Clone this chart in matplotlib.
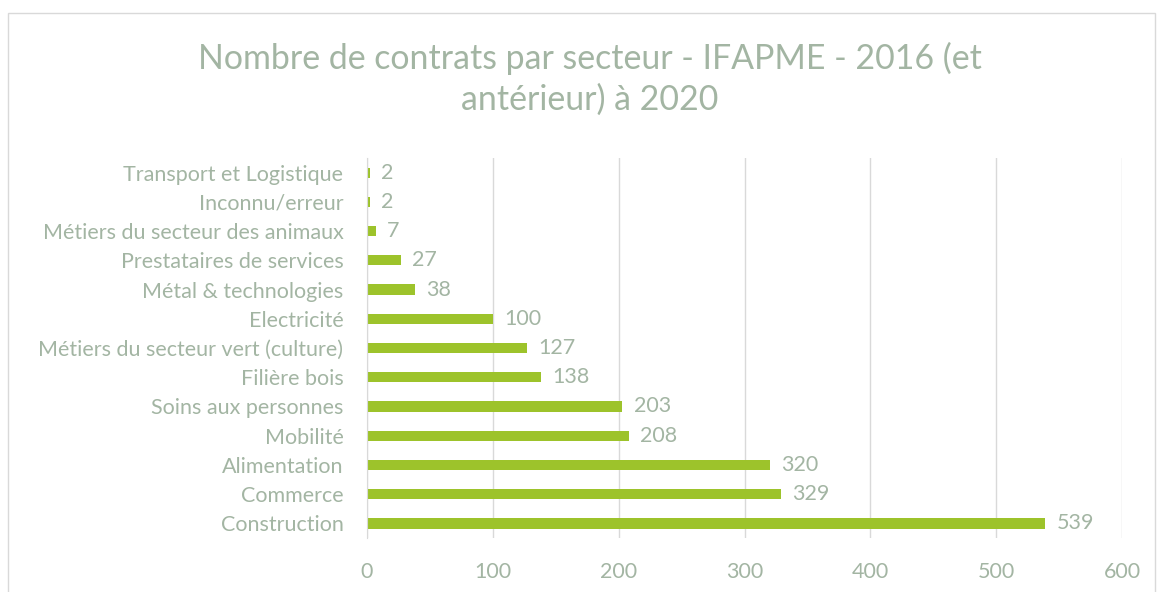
import matplotlib.pyplot as plt
from matplotlib.patches import Rectangle

plt.rcParams['font.family'] = ['Lato', 'DejaVu Sans']

secteurs = ['Construction', 'Commerce', 'Alimentation', 'Mobilité',
            'Soins aux personnes', 'Filière bois',
            'Métiers du secteur vert (culture)', 'Electricité',
            'Métal & technologies', 'Prestataires de services',
            'Métiers du secteur des animaux', 'Inconnu/erreur',
            'Transport et Logistique']
contrats = [539, 329, 320, 208, 203, 138, 127, 100, 38, 27, 7, 2, 2]

txt = '#A3B5A3'
bar_c = '#9DC32B'

fig = plt.figure(figsize=(11.57, 5.92), dpi=100)
ax = fig.add_axes([0.3172, 0.0912, 0.6526, 0.6419])

y = range(len(secteurs))
ax.barh(y, contrats, height=0.35, color=bar_c)
for i, v in enumerate(contrats):
    ax.text(v + 9, i, str(v), va='center', ha='left', fontsize=15.5, color=txt)

ax.set_yticks(list(y))
ax.set_yticklabels(secteurs, fontsize=15.5, color=txt)
ax.set_ylim(-0.5, len(secteurs) - 0.5)
ax.set_xlim(0, 600)
ax.set_xticks(range(0, 601, 100))
ax.tick_params(axis='x', labelsize=15.5, labelcolor=txt, length=0, pad=17)
ax.tick_params(axis='y', length=0, pad=17)
ax.grid(axis='x', color='#D9D9D9', linewidth=1)
ax.set_axisbelow(True)
for s in ['top', 'right', 'bottom']:
    ax.spines[s].set_visible(False)
ax.spines['left'].set_color('#D9D9D9')

fig.text(0.51, 0.867, 'Nombre de contrats par secteur - IFAPME - 2016 (et\nantérieur) à 2020',
         ha='center', va='center', fontsize=24.4, color=txt, linespacing=1.35)

fig.patches.append(Rectangle((0.007, -0.01), 0.991, 0.988, transform=fig.transFigure,
                             fill=False, edgecolor='#D9D9D9', linewidth=1))

fig.savefig('out.png', dpi=100)
